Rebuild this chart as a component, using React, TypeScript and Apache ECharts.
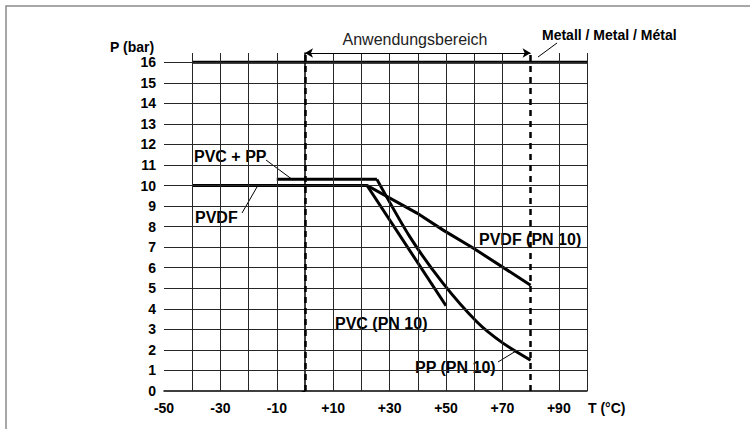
import React, { useEffect, useRef } from "react";
import * as echarts from "echarts";

// ---- data ----
// T (°C), P (bar)
const metalLine: number[][] = [[-40, 16], [100, 16]];
const pvdfLine: number[][] = [[-40, 10], [22, 10], [39.7, 8.66], [49, 7.83], [59.6, 6.96], [80, 5.15]];
const pvcPpPlateau: number[][] = [[-10, 10.3], [25.5, 10.3]];
const ppLine: number[][] = [[25.5, 10.3], [37.2, 7.5], [48.9, 5.25], [61, 3.36], [70.2, 2.33], [80, 1.5]];
const pvcLine: number[][] = [[22, 10], [50, 4.15]];

// axes / ticks
const xMin = -50;
const xMax = 100;
const yMin = 0;
const yMax = 16.45;
const xLabelValues = [-50, -30, -10, 10, 30, 50, 70, 90];
const xGridLines = [-40, -30, -20, -10, 10, 20, 30, 40, 50, 60, 70, 90, 100];
const yGridLines = [1, 2, 3, 4, 5, 6, 7, 8, 9, 10, 11, 12, 13, 14, 15, 16];
const rangeLimits = [0, 80];

const FONT = "'Liberation Sans', Arial, Helvetica, sans-serif";

function label(text: string, x: number, y: number, size: number, opts: any = {}) {
  return {
    type: "text",
    x,
    y,
    z: opts.z ?? 2,
    silent: true,
    style: {
      text,
      fontFamily: FONT,
      fontSize: size,
      fontWeight: opts.weight ?? "bold",
      fill: opts.color ?? "#000",
      align: opts.align ?? "left",
      verticalAlign: "middle",
      backgroundColor: opts.bg ?? undefined,
      padding: opts.bg ? [2, 1, 1, 1] : 0,
    },
  };
}

function leader(x1: number, y1: number, x2: number, y2: number) {
  return {
    type: "line",
    z: 5,
    silent: true,
    shape: { x1, y1, x2, y2 },
    style: { stroke: "#000", lineWidth: 1 },
  };
}

export default function App() {
  const ref = useRef<HTMLDivElement>(null);

  useEffect(() => {
    if (!ref.current) return;
    const chart = echarts.init(ref.current, undefined, { renderer: "svg" });
    const lineSeries = (name: string, data: number[][], smooth: number | boolean = false) => ({
      type: "line",
      name,
      data,
      z: 3,
      smooth,
      showSymbol: false,
      symbol: "none",
      silent: true,
      lineStyle: { color: "#000", width: 3, join: "miter" },
      emphasis: { disabled: true },
    });
    chart.setOption({
      animation: false,
      backgroundColor: "#fff",
      grid: { left: 164, right: 163, top: 53, bottom: 38, containLabel: false },
      xAxis: {
        type: "value",
        min: xMin,
        max: xMax,
        interval: 10,
        axisLine: { show: true, onZero: false, lineStyle: { color: "#000", width: 1.5 } },
        axisTick: { show: false },
        splitLine: { show: false },
        axisLabel: {
          margin: 10,
          fontFamily: FONT,
          fontSize: 14,
          fontWeight: "bold",
          color: "#000",
          formatter: (v: number) =>
            xLabelValues.includes(v) ? (v > 0 ? "+" + v : String(v)) : "",
        },
      },
      yAxis: {
        type: "value",
        min: yMin,
        max: yMax,
        interval: 1,
        axisLine: { show: true, lineStyle: { color: "#000", width: 1.5 } },
        axisTick: { show: true, length: 3, lineStyle: { color: "#000" } },
        splitLine: { show: false },
        axisLabel: {
          margin: 8,
          showMaxLabel: false,
          fontFamily: FONT,
          fontSize: 14,
          fontWeight: "bold",
          color: "#000",
          formatter: (v: number) => (Number.isInteger(v) ? String(v) : ""),
        },
      },
      series: [
        {
          type: "line",
          name: "grid",
          data: [],
          z: 1,
          silent: true,
          markLine: {
            silent: true,
            symbol: "none",
            label: { show: false },
            emphasis: { disabled: true },
            lineStyle: { color: "#262626", width: 1, type: "solid" },
            data: [
              ...xGridLines.map((v) => ({ xAxis: v })),
              ...yGridLines.map((v) => ({ yAxis: v })),
            ],
          },
        },
        {
          type: "line",
          name: "limits",
          data: [],
          z: 4,
          silent: true,
          markLine: {
            silent: true,
            symbol: "none",
            label: { show: false },
            emphasis: { disabled: true },
            lineStyle: { color: "#000", width: 2.5, type: [6, 5] },
            data: rangeLimits.map((v) => ({ xAxis: v })),
          },
        },
        {
          type: "line",
          name: "range",
          data: [],
          z: 4,
          silent: true,
          markLine: {
            silent: true,
            symbol: ["arrow", "arrow"],
            symbolSize: [7, 8],
            label: { show: false },
            emphasis: { disabled: true },
            lineStyle: { color: "#000", width: 1, type: "solid" },
            data: [[{ coord: [rangeLimits[0], yMax] }, { coord: [rangeLimits[1], yMax] }]],
          },
        },
        lineSeries("Metall", metalLine),
        lineSeries("PVDF", pvdfLine),
        lineSeries("PVC + PP", pvcPpPlateau),
        lineSeries("PP (PN 10)", ppLine, 0.25),
        lineSeries("PVC (PN 10)", pvcLine),
      ],
      graphic: [
        {
          type: "rect",
          z: 0,
          silent: true,
          shape: { x: 6, y: 6, width: 800, height: 500 },
          style: { fill: "none", stroke: "#8a8a8a", lineWidth: 1.5 },
        },
        label("P (bar)", 110, 47, 14),
        label("T (°C)", 588, 408, 14),
        label("Anwendungsbereich", 415, 39, 16, { weight: "normal", align: "center", color: "#222" }),
        label("Metall / Metal / Métal", 542, 35, 14),
        label("PVC + PP", 193, 156, 16, { bg: "#fff" }),
        label("PVDF", 194, 217, 16, { bg: "#fff" }),
        label("PVDF (PN 10)", 478, 239, 16, { bg: "#fff" }),
        label("PVC (PN 10)", 334, 323, 16, { bg: "#fff" }),
        label("PP (PN 10)", 414, 367, 16, { bg: "#fff" }),
        leader(266, 160, 293, 180),
        leader(242, 213, 257, 187),
        leader(498, 362, 516, 351),
        leader(538, 57, 557, 43),
      ],
    });
    return () => chart.dispose();
  }, []);

  return (
    <div
      ref={ref}
      style={{ position: "fixed", left: 0, top: 0, width: 750, height: 429, background: "#fff" }}
    />
  );
}
